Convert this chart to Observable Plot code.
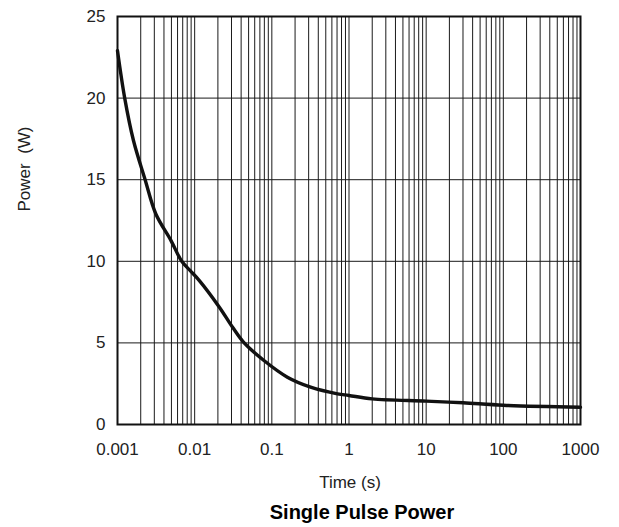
<!DOCTYPE html>
<html>
<head>
<meta charset="utf-8">
<script src="https://cdn.jsdelivr.net/npm/d3@7"></script>
<script src="https://cdn.jsdelivr.net/npm/@observablehq/plot@0.6"></script>
<style>
  html, body { margin: 0; padding: 0; background: #fff; }
  #chart svg { display: block; }
</style>
</head>
<body>
<div id="chart"></div>
<script>
// Data
const times = [0.001, 0.00124, 0.00161, 0.00228, 0.00314, 0.0049, 0.0068, 0.0087, 0.0115, 0.0209, 0.031, 0.0438, 0.079, 0.159, 0.318, 0.71, 1, 2, 10, 30, 100, 1000];
const power = [22.9, 20, 17.4, 15, 12.9, 11.3, 10, 9.44, 8.82, 7.19, 5.96, 5, 3.92, 2.9, 2.29, 1.88, 1.78, 1.57, 1.43, 1.33, 1.18, 1.06];

const xTicks = [0.001, 0.01, 0.1, 1, 10, 100, 1000];
const xTickLabels = ["0.001", "0.01", "0.1", "1", "10", "100", "1000"];
const yTicks = [0, 5, 10, 15, 20, 25];
const xLabel = "Time (s)";
const yLabel = "Power\u00a0\u00a0(W)";
const title = "Single Pulse Power";

const data = times.map((t, i) => ({t, p: power[i]}));
const xLabelMap = new Map(xTicks.map((t, i) => [t, xTickLabels[i]]));
// minor grid: 1..9 x each decade
const xGrid = [];
for (let e = -3; e < 3; e++) for (let m = 1; m <= 9; m++) xGrid.push(m * Math.pow(10, e));
xGrid.push(1000);

const font = "'Liberation Sans', Arial, Helvetica, sans-serif";

const chart = Plot.plot({
  width: 619,
  height: 527,
  marginLeft: 117,
  marginRight: 39,
  marginTop: 16,
  marginBottom: 103,
  style: {fontFamily: font, fontSize: "17px", color: "#222", background: "#fff"},
  x: {type: "log", domain: [0.001, 1000]},
  y: {domain: [0, 25]},
  marks: [
    Plot.ruleX(xGrid, {stroke: "#1a1a1a", strokeWidth: 1}),
    Plot.ruleY(yTicks, {stroke: "#1a1a1a", strokeWidth: 1}),
    Plot.line(data, {x: "t", y: "p", stroke: "#111", strokeWidth: 3.4, curve: "catmull-rom"}),
    Plot.frame({stroke: "#111", strokeWidth: 2}),
    Plot.axisX({ticks: xTicks, tickSize: 0, tickPadding: 18, tickFormat: d => xLabelMap.get(d) ?? String(d), label: null, fontSize: 17}),
    Plot.axisY({ticks: yTicks, tickSize: 0, tickPadding: 12, label: null, fontSize: 17}),
    Plot.text([xLabel], {frameAnchor: "bottom", dx: 1, dy: 63, lineAnchor: "bottom", fontSize: 17, fill: "#222"}),
    Plot.text([yLabel], {frameAnchor: "left", dx: -93, dy: -9, rotate: -90, fontSize: 17, fill: "#222"}),
    Plot.text([title], {frameAnchor: "bottom", dx: 13, dy: 94, lineAnchor: "bottom", fontSize: 20, fontWeight: "bold", fill: "#000"})
  ]
});
document.getElementById("chart").appendChild(chart);
</script>
</body>
</html>
